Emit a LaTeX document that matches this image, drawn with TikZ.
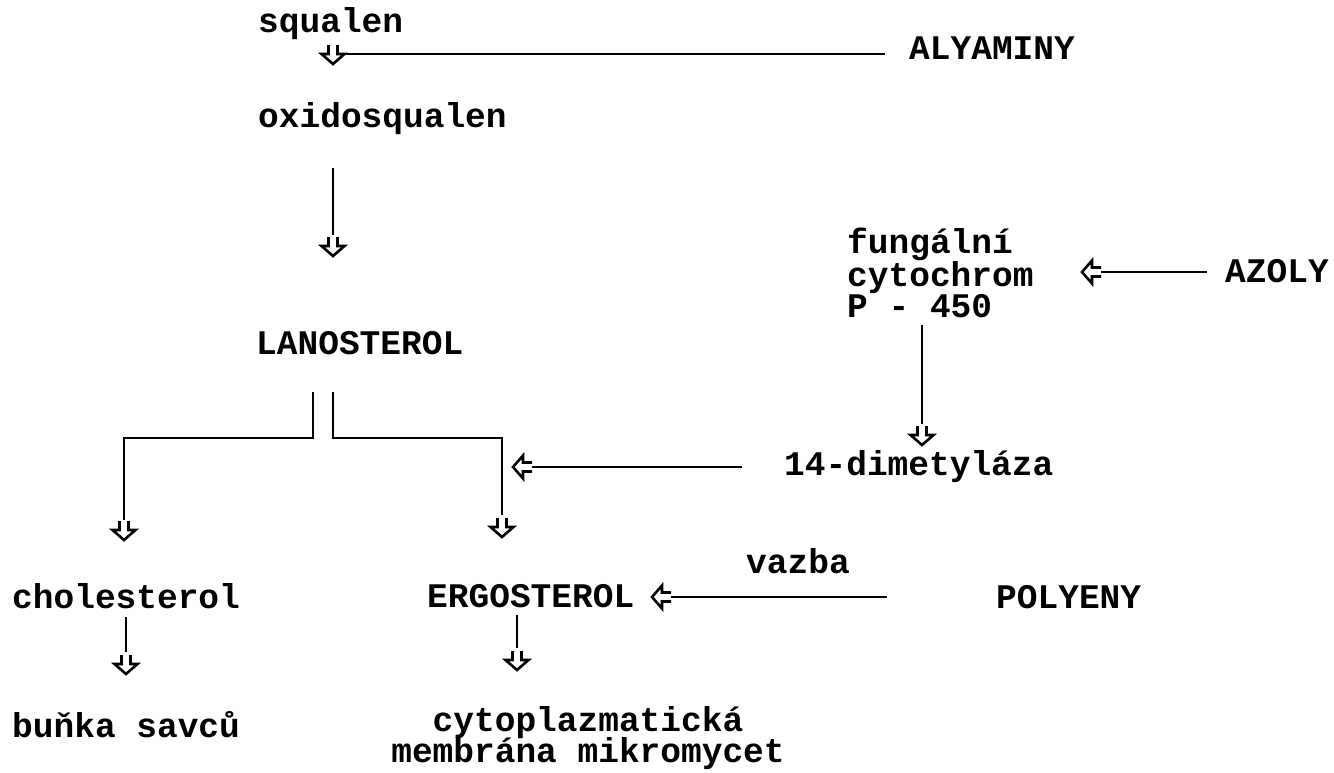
\documentclass[tikz,border=0pt]{standalone}
\usepackage{fontspec}
\newfontfamily\cour{Liberation Mono}
\begin{document}
\begin{tikzpicture}[x=1pt,y=-1pt,
  lbl/.style={anchor=base west,inner sep=0pt,font=\cour\bfseries\fontsize{34.5}{32}\selectfont},
  ln/.style={line width=1.8pt},
  hol/.pic={\draw[line width=2.6pt,line join=miter] (-4.5,-19)--(-4.5,-10)--(-11.5,-10)--(0,0)--(11.5,-10)--(4.5,-10)--(4.5,-19);}
]
\useasboundingbox (0,0) rectangle (1334,772);
% texts
\node[lbl] (squ) at (258,32) {squalen};
\node[lbl] (aly) at (909,59) {ALYAMINY};
\node[lbl] (oxi) at (258,127) {oxidosqualen};
\node[lbl] (lan) at (256,354) {LANOSTEROL};
\node[lbl,align=left,anchor=north west] (cyt) at (847,228) {fungální\\[-1pt]cytochrom\\[-1pt]P - 450};
\node[lbl] (azo) at (1225,282) {AZOLY};
\node[lbl] (dim) at (784,475) {14-dimetyláza};
\node[lbl] (cho) at (12,608) {cholesterol};
\node[lbl] (erg) at (427,607) {ERGOSTEROL};
\node[lbl] (vaz) at (746,573) {vazba};
\node[lbl] (pol) at (996,608) {POLYENY};
\node[lbl] (bun) at (12,737) {buňka savců};
\node[lbl,anchor=base,align=center] (mem) at (588,762) {cytoplazmatická\\[-3pt]membrána mikromycet};
% coordinates
\coordinate (a1) at (333,64);
\coordinate (a1s) at (345,54);
\coordinate (a1e) at (885,54);
\coordinate (a2s) at (333,168);
\coordinate (a2e) at (333,235);
\coordinate (a2) at (333,256);
\coordinate (b1) at (313,392);
\coordinate (b2) at (333,392);
\coordinate (bl) at (124,438);
\coordinate (br) at (502,438);
\coordinate (cl) at (124,520);
\coordinate (cr) at (502,515);
\coordinate (tl) at (124,540);
\coordinate (tr) at (502,537);
\coordinate (az) at (1082,272);
\coordinate (azs) at (1101,272);
\coordinate (aze) at (1207,272);
\coordinate (pv1) at (922,325);
\coordinate (pv2) at (922,424);
\coordinate (pt) at (922,445);
\coordinate (dm) at (513,467);
\coordinate (dms) at (532,467);
\coordinate (dme) at (742,467);
\coordinate (ea) at (652,597);
\coordinate (eas) at (671,597);
\coordinate (eae) at (887,597);
\coordinate (ch1) at (126,617);
\coordinate (ch2) at (126,652);
\coordinate (cht) at (126,674);
\coordinate (er1) at (517,615);
\coordinate (er2) at (517,648);
\coordinate (ert) at (517,670);
% connectors
\draw[ln] (a1s) -- (a1e);
\pic at (a1) {hol};
\draw[ln] (a2s) -- (a2e);
\pic at (a2) {hol};
\draw[ln] (b1) |- (bl) -- (cl);
\pic at (tl) {hol};
\draw[ln] (b2) |- (br) -- (cr);
\pic at (tr) {hol};
\draw[ln] (azs) -- (aze);
\pic[rotate=-90] at (az) {hol};
\draw[ln] (pv1) -- (pv2);
\pic at (pt) {hol};
\draw[ln] (dms) -- (dme);
\pic[rotate=-90] at (dm) {hol};
\draw[ln] (eas) -- (eae);
\pic[rotate=-90] at (ea) {hol};
\draw[ln] (ch1) -- (ch2);
\pic at (cht) {hol};
\draw[ln] (er1) -- (er2);
\pic at (ert) {hol};
\end{tikzpicture}
\end{document}
